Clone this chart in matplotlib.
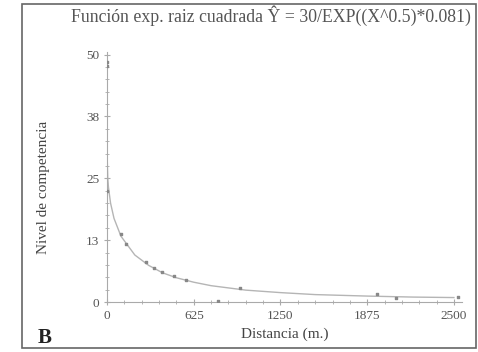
import matplotlib.pyplot as plt
from matplotlib.ticker import AutoMinorLocator
from matplotlib.patches import Rectangle

plt.rcParams['font.family'] = ['Liberation Serif', 'DejaVu Serif']

# fitted curve, values
curve_x = [0, 5, 10, 25, 50, 100, 200, 300, 400, 500, 625, 750, 1000, 1250, 1500, 1875, 2200, 2500]
curve_y = [30, 25.0, 23.2, 20.0, 16.9, 13.3, 9.5, 7.4, 5.9, 4.9, 4.0, 3.3, 2.4, 1.9, 1.5, 1.2, 1.0, 0.9]

# observed points (sparse)
obs_x = [0, 0, 0, 100, 140, 280, 340, 395, 480, 570, 960, 800, 1945, 2080, 2530]
obs_y = [48.5, 47.6, 22.4, 13.8, 11.8, 8.0, 6.8, 6.0, 5.2, 4.4, 2.8, 0.3, 1.6, 0.8, 1.0]

xticks = [0, 625, 1250, 1875, 2500]
yticks = [0, 12.5, 25, 37.5, 50]
ytick_labels = ['0', '13', '25', '38', '50']

fig = plt.figure(figsize=(4.78, 3.52), dpi=100)
ax = fig.add_axes([0.224, 0.142, 0.743, 0.71])

ax.plot(curve_x, curve_y, color='#b5b5b5', lw=1.0)
ax.scatter(obs_x, obs_y, s=2, color='#888888', marker='s', zorder=3)

ax.set_xlim(0, 2560)
ax.set_ylim(0, 50.5)
ax.set_xticks(xticks)
ax.set_yticks(yticks)
ax.set_yticklabels(ytick_labels)
ax.xaxis.set_minor_locator(AutoMinorLocator(5))
ax.yaxis.set_minor_locator(AutoMinorLocator(5))
ax.tick_params(which='both', direction='inout', colors='#aaaaaa', labelcolor='#555555', labelsize=9.5)
ax.tick_params(which='major', length=4)
ax.tick_params(which='minor', length=2.5)

for s in ['top', 'right']:
    ax.spines[s].set_visible(False)
for s in ['left', 'bottom']:
    ax.spines[s].set_color('#aaaaaa')

ax.set_xlabel('Distancia (m.)', fontsize=11, color='#444444', labelpad=4)
ax.set_ylabel('Nivel de competencia', fontsize=11, color='#444444')
ax.yaxis.set_label_coords(-0.16, 0.46)

fig.text(0.567, 0.955, 'Función exp. raiz cuadrada Ŷ = 30/EXP((X^0.5)*0.081)',
         ha='center', va='center', fontsize=12.8, color='#555555')
fig.text(0.078, 0.04, 'B', fontsize=15, fontweight='bold', ha='left', va='center', color='#222222')

fig.patches.append(Rectangle((0.046, 0.012), 0.95, 0.978, transform=fig.transFigure,
                             fill=False, edgecolor='#666666', lw=1.2))

fig.savefig('out.png', dpi=100)
